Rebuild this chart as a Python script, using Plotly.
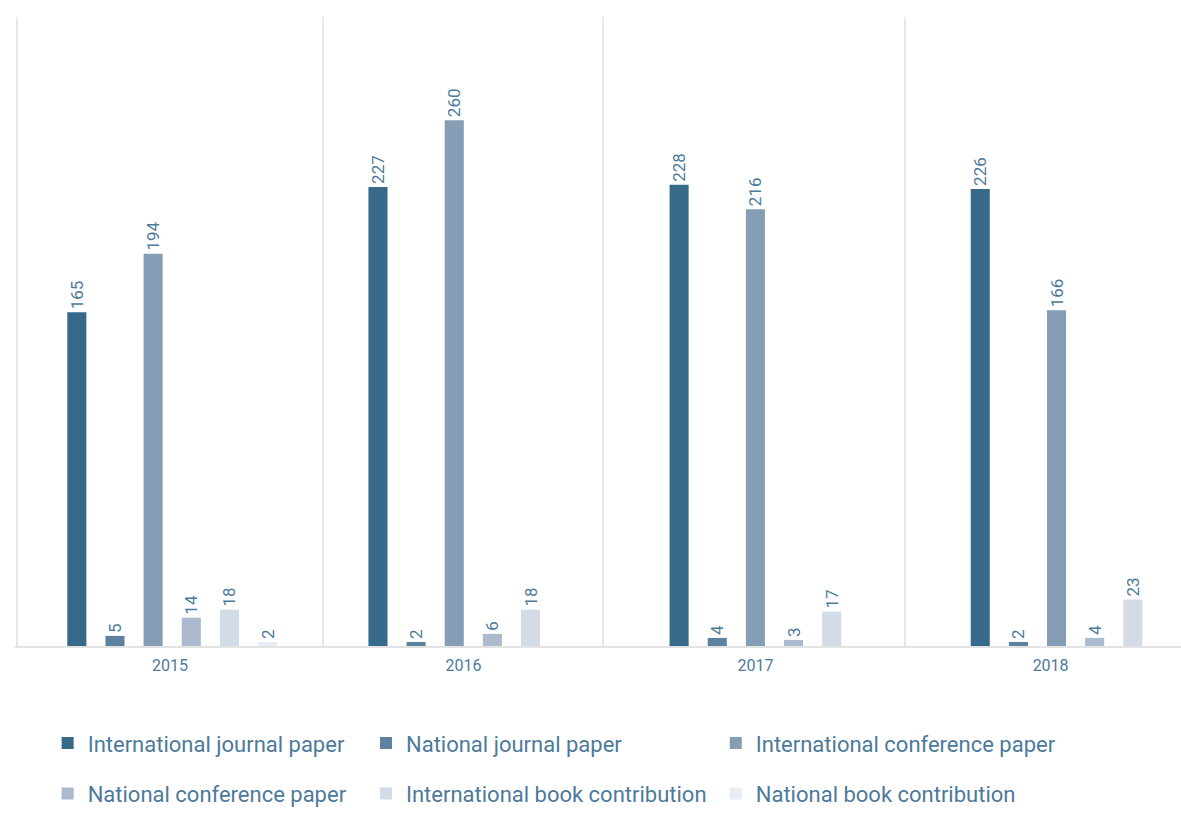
import plotly.graph_objects as go

years = ["2015", "2016", "2017", "2018"]
series_names = [
    "International journal paper",
    "National journal paper",
    "International conference paper",
    "National conference paper",
    "International book contribution",
    "National book contribution",
]
intl_journal = [165, 227, 228, 226]
natl_journal = [5, 2, 4, 2]
intl_conf = [194, 260, 216, 166]
natl_conf = [14, 6, 3, 4]
intl_book = [18, 18, 17, 23]
natl_book = [2, None, None, None]

series_values = [intl_journal, natl_journal, intl_conf, natl_conf, intl_book, natl_book]
colors = ["#376a8a", "#5e81a0", "#859eb5", "#abbacd", "#d3dbe6", "#e8ecf3"]
# legend column for each series (row-major 3-column layout)
legend_ids = ["legend", "legend2", "legend3", "legend", "legend2", "legend3"]

FONT = "Roboto, sans-serif"
TXT = "#4d7a9a"

x_years = [int(y) for y in years]
# axis layout: label positions and band separators (offsets from each year)
label_offsets = [-0.007, -0.033, -0.063, -0.083]
sep_offsets = [-0.514, -0.498, -0.568, -0.565]
label_pos = [x + o for x, o in zip(x_years, label_offsets)]
sep_pos = [x + o for x, o in zip(x_years, sep_offsets)]

fig = go.Figure()
for i, (name, vals, col) in enumerate(zip(series_names, series_values, colors)):
    fig.add_trace(go.Bar(
        name=name,
        x=x_years,
        y=vals,
        marker=dict(color=col, line=dict(width=0)),
        text=[("" if v is None else str(v)) for v in vals],
        textposition="outside",
        textangle=-90,
        constraintext="none",
        textfont=dict(family=FONT, size=17, color=TXT),
        cliponaxis=False,
        legend=legend_ids[i],
        legendgroup="g%d" % i,
    ))

legend_common = dict(
    orientation="v",
    font=dict(family=FONT, size=22, color=TXT),
    xanchor="left",
    yanchor="middle",
    y=-0.195,
    tracegroupgap=19,
    bgcolor="rgba(0,0,0,0)",
    itemclick=False,
)

fig.update_layout(
    width=1181,
    height=816,
    margin=dict(l=15, r=0, t=17, b=170),
    paper_bgcolor="white",
    plot_bgcolor="white",
    barmode="group",
    bargap=0.24,
    bargroupgap=0.5,
    showlegend=True,
    legend=dict(x=0.028, **legend_common),
    legend2=dict(x=0.301, **legend_common),
    legend3=dict(x=0.601, **legend_common),
    xaxis=dict(
        type="linear",
        range=[x_years[0] - 0.522, x_years[0] + 3.35],
        tickmode="array",
        tickvals=label_pos,
        ticktext=years,
        showgrid=False,
        zeroline=False,
        minor=dict(
            tickmode="array",
            tickvals=sep_pos,
            showgrid=True,
            gridcolor="#e8e8e8",
            gridwidth=2,
            ticks="",
        ),
        showline=True,
        linecolor="#e3e3e3",
        linewidth=2,
        ticks="",
        tickfont=dict(family=FONT, size=16, color=TXT),
        ticklabelstandoff=4,
    ),
    yaxis=dict(
        range=[0, 311],
        visible=False,
        showgrid=False,
        zeroline=False,
    ),
)

fig.write_html(
    "out.html",
    config={"displayModeBar": False},
    post_script="document.body.style.margin='0';",
)
